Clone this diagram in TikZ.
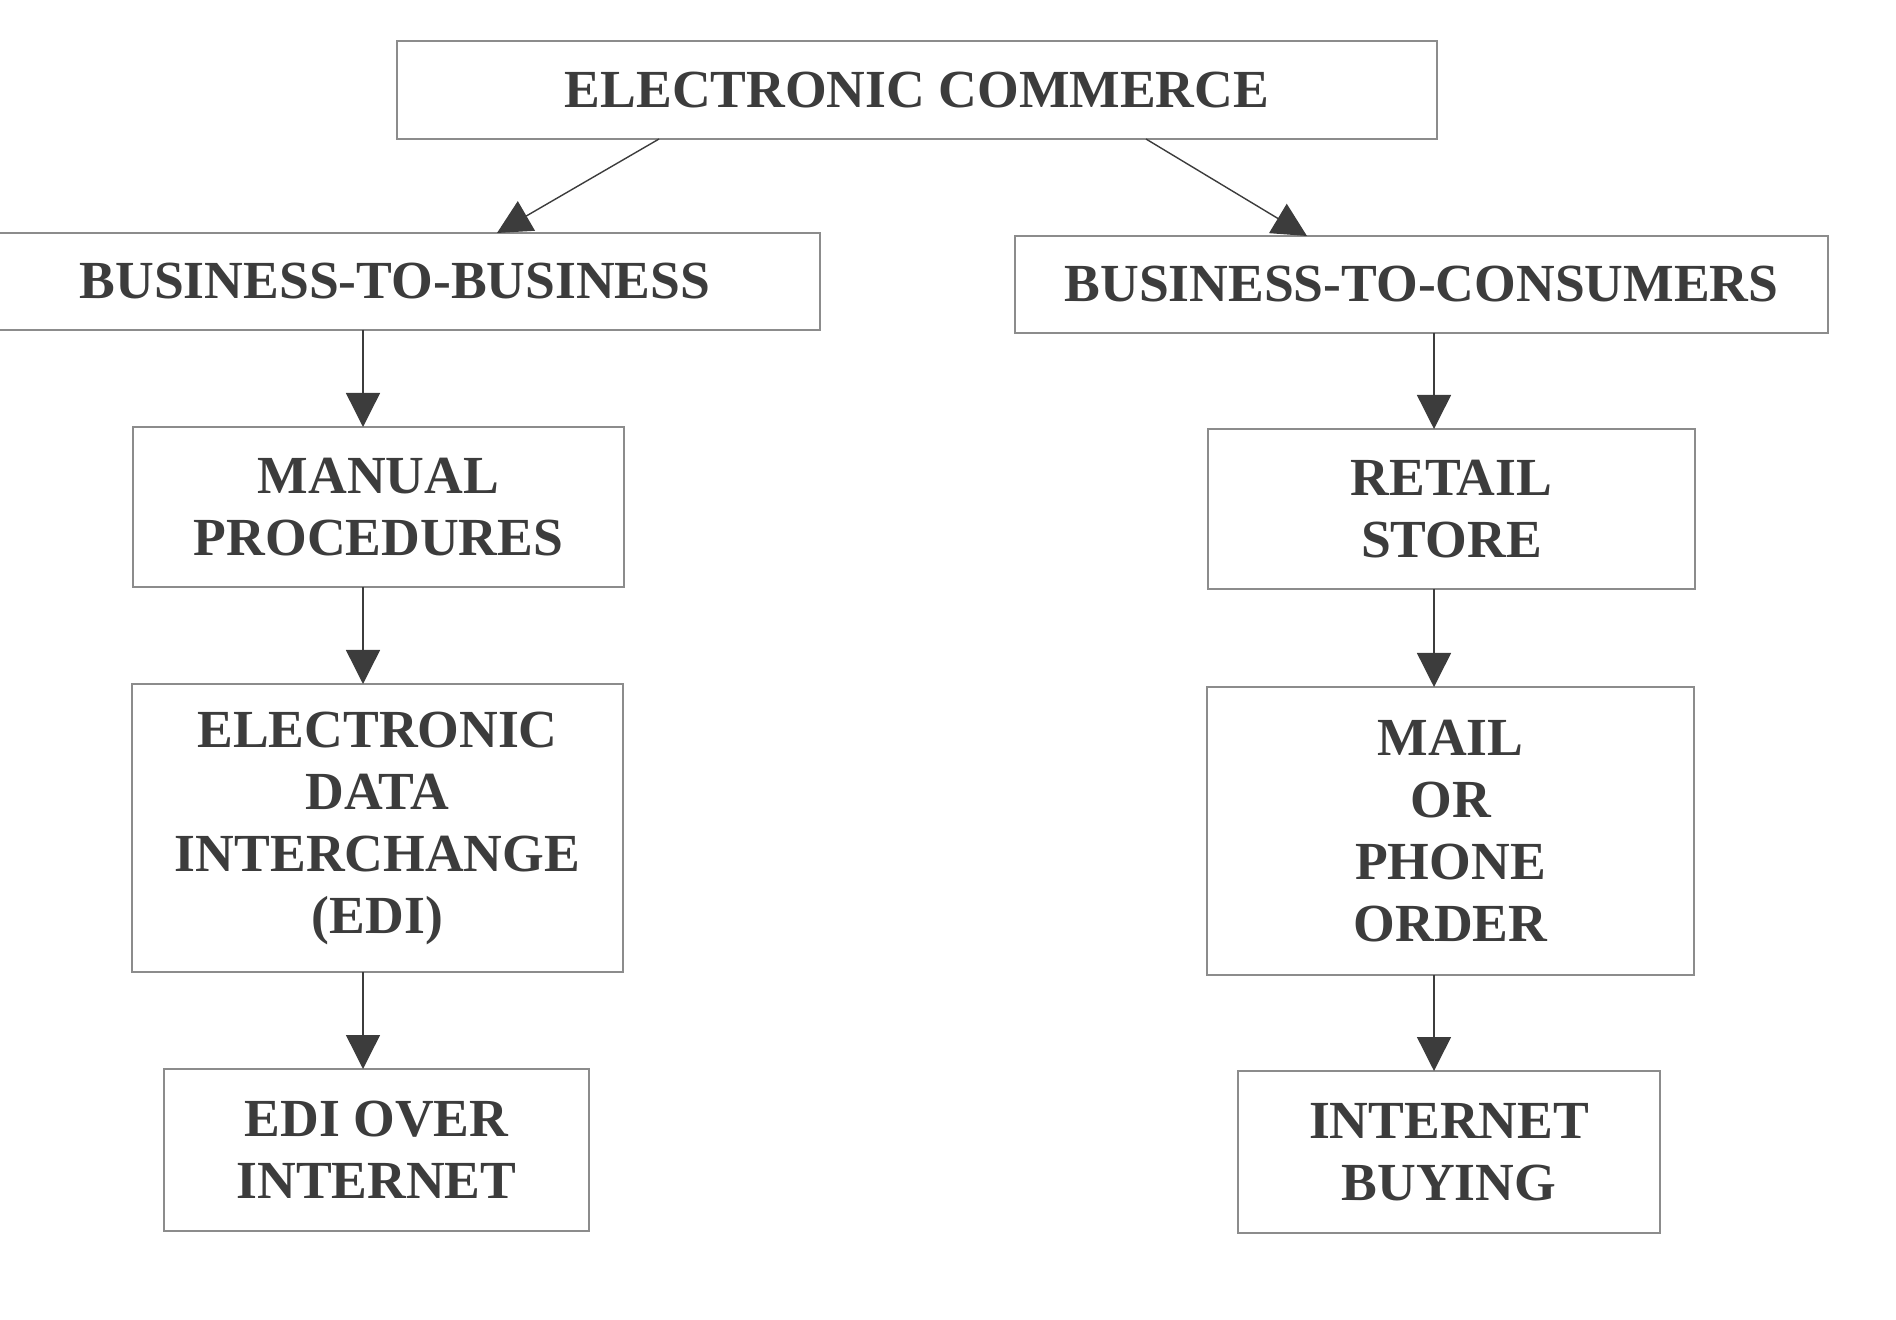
\documentclass[tikz,border=0pt]{standalone}
\usepackage{fontspec}
\setmainfont{Liberation Serif}
\usepackage{tikz}
\usetikzlibrary{arrows.meta}

\definecolor{inkgray}{HTML}{3C3C3C}
\definecolor{framegray}{HTML}{8C8C8C}

\tikzset{
  box/.style={draw=framegray, line width=1pt, inner sep=0pt, outer sep=0pt,
    align=center, text=inkgray, font=\bfseries\fontsize{26.8}{31}\selectfont},
  arr/.style={draw=inkgray, line width=0.7pt,
    -{Triangle[width=17pt,length=17pt]}}
}

\begin{document}
\begin{tikzpicture}[x=0.5pt, y=-0.5pt]
	\useasboundingbox (0,0) rectangle (1896,1320);
	
	\node[box, minimum width=520pt, minimum height=49pt] (ec) at (917, 90) {ELECTRONIC COMMERCE};
	
	\node[box, minimum width=425pt, minimum height=48.5pt] (btob) at (395, 281.5) {BUSINESS-TO-BUSINESS};
	\node[box, minimum width=406.5pt, minimum height=48.5pt] (btoc) at (1421.5, 284.5) {BUSINESS-TO-CONSUMERS};
	
	\node[box, minimum width=245.5pt, minimum height=80pt] (manual) at (378.5, 507) {MANUAL\\PROCEDURES};
	\node[box, minimum width=245.5pt, minimum height=144pt] (edi) at (377.5, 828) {ELECTRONIC\\DATA\\INTERCHANGE\\(EDI)};
	\node[box, minimum width=212.5pt, minimum height=81pt] (edinet) at (376.5, 1150) {EDI OVER\\INTERNET};
	
	\node[box, minimum width=243.5pt, minimum height=80pt] (retail) at (1451.5, 509) {RETAIL\\STORE};
	\node[box, minimum width=243.5pt, minimum height=144pt] (mail) at (1450.5, 831) {MAIL\\OR\\PHONE\\ORDER};
	\node[box, minimum width=211pt, minimum height=81pt] (netbuy) at (1449, 1152) {INTERNET\\BUYING};
	
	\coordinate (lx) at (363, 0);
	\coordinate (rx) at (1434, 0);
	
	\draw[arr] (ec.south -| 659,0) -- (btob.north -| 497,0);
	\draw[arr] (ec.south -| 1146,0) -- (btoc.north -| 1307,0);
	
	\draw[arr] (btob.south -| lx) -- (manual.north -| lx);
	\draw[arr] (manual.south -| lx) -- (edi.north -| lx);
	\draw[arr] (edi.south -| lx) -- (edinet.north -| lx);
	
	\draw[arr] (btoc.south -| rx) -- (retail.north -| rx);
	\draw[arr] (retail.south -| rx) -- (mail.north -| rx);
	\draw[arr] (mail.south -| rx) -- (netbuy.north -| rx);
\end{tikzpicture}
\end{document}
